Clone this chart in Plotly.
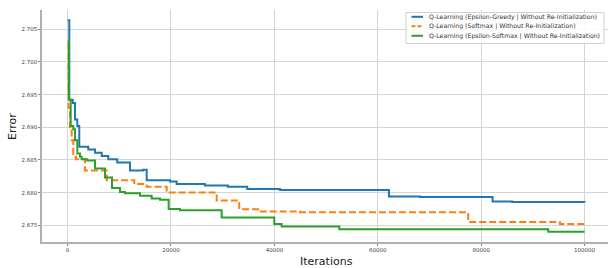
import plotly.graph_objects as go

# Data (step breakpoints)
greedy_x = [0, 330, 990, 1430, 1880, 2260, 4000, 5300, 6600, 7870, 9600, 12070, 14600, 15300,
            19800, 21100, 26570, 31000, 34750, 41080, 62160, 68150, 82200, 86000, 100000]
greedy_y = [2.7064, 2.6942, 2.6937, 2.6912, 2.6902, 2.6870, 2.6866, 2.6861, 2.6856, 2.6851, 2.6846,
            2.6834, 2.6835, 2.6819, 2.6817, 2.6813, 2.6811, 2.6809, 2.68056, 2.6804, 2.6794,
            2.67933, 2.67863, 2.67855, 2.67853]

softmax_x = [0, 170, 460, 790, 1100, 1620, 3370, 7560, 12900, 15300, 19170, 28840, 33200, 37080,
             44950, 77500, 95230, 100000]
softmax_y = [2.7028, 2.6930, 2.6895, 2.6880, 2.6855, 2.6851, 2.6834, 2.6819, 2.6813, 2.6809,
             2.6800, 2.6788, 2.67746, 2.6771, 2.6770, 2.6755, 2.6752, 2.6752]

esoft_x = [0, 270, 600, 1100, 1430, 1880, 2400, 2730, 3800, 5300, 7230, 8590, 10130, 11100, 14000,
           16260, 17870, 19550, 21740, 29800, 39980, 41400, 52550, 92970, 100000]
esoft_y = [2.7031, 2.6942, 2.6902, 2.6897, 2.6880, 2.6860, 2.6855, 2.6851, 2.6849, 2.6837, 2.6823,
           2.6807, 2.6801, 2.6799, 2.6795, 2.6791, 2.6789, 2.6775, 2.6773, 2.6762, 2.6752,
           2.6748, 2.6744, 2.6740, 2.6740]

names = ["Q-Learning (Epsilon-Greedy | Without Re-Initialization)",
         "Q-Learning (Softmax | Without Re-Initialization)",
         "Q-Learning (Epsilon-Softmax | Without Re-Initialization)"]
x_ticks = [0, 20000, 40000, 60000, 80000, 100000]
y_ticks = [2.675, 2.680, 2.685, 2.690, 2.695, 2.700, 2.705]

W, H = 608, 268
ML, MR, MT, MB = 42, 0, 10, 26
PW, PH = W - ML - MR, H - MT - MB

def px_x(p):  # pixel -> paper x
    return (p - ML) / PW

def px_y(p):  # pixel -> paper y
    return 1 - (p - MT) / PH

font = "DejaVu Sans, sans-serif"
DASH = "7px,3px"
fig = go.Figure()
series = [(greedy_x, greedy_y, "#1f77b4", "solid"),
          (softmax_x, softmax_y, "#ff7f0e", DASH),
          (esoft_x, esoft_y, "#2ca02c", "solid")]
for (xs, ys, c, d), n in zip(series, names):
    fig.add_trace(go.Scatter(x=xs, y=ys, mode="lines", name=n, showlegend=False,
                             line=dict(color=c, width=2, dash=d, shape="hv")))

# manual compact legend
shapes = [dict(type="rect", xref="paper", yref="paper",
               x0=px_x(406), x1=px_x(604), y0=px_y(43.5), y1=px_y(12.5),
               line=dict(color="#d0d0d0", width=1), fillcolor="rgba(255,255,255,0.85)", layer="above")]
annotations = []
rows = [16.8, 26.3, 35.8]
for (xs, ys, c, d), n, ry in zip(series, names, rows):
    shapes.append(dict(type="line", xref="paper", yref="paper",
                       x0=px_x(411.5), x1=px_x(423), y0=px_y(ry), y1=px_y(ry),
                       line=dict(color=c, width=2, dash="4px,2px" if d != "solid" else "solid"),
                       layer="above"))
    annotations.append(dict(xref="paper", yref="paper", x=px_x(426.5), y=px_y(ry),
                            xanchor="left", yanchor="middle", showarrow=False, text=n,
                            font=dict(size=6.2, family=font, color="#333333")))
annotations.append(dict(xref="paper", yref="paper", x=px_x(326), y=px_y(261), text="Iterations",
                        xanchor="center", yanchor="middle", showarrow=False,
                        font=dict(size=11, family=font, color="#222222")))
annotations.append(dict(xref="paper", yref="paper", x=px_x(12), y=px_y(127), text="Error",
                        xanchor="center", yanchor="middle", showarrow=False, textangle=-90,
                        font=dict(size=11, family=font, color="#222222")))

fig.update_layout(
    width=W, height=H,
    margin=dict(l=ML, r=MR, t=MT, b=MB),
    paper_bgcolor="white", plot_bgcolor="white",
    font=dict(family=font, color="#333333"),
    showlegend=False, hovermode=False,
    shapes=shapes, annotations=annotations,
)
fig.update_xaxes(
    range=[-4950, 104530], tickvals=x_ticks, ticktext=[str(v) for v in x_ticks],
    tickfont=dict(size=5.5, family=font, color="#444444"), automargin=False,
    showgrid=True, gridcolor="#d5d5d5", gridwidth=1,
    showline=True, linecolor="#b0b0b0", linewidth=1.5, mirror=False,
    ticks="outside", ticklen=2, tickcolor="#888888", zeroline=False,
)
fig.update_yaxes(
    range=[2.67244, 2.70795], tickvals=y_ticks, ticktext=[f"{v:.3f}" for v in y_ticks],
    tickfont=dict(size=5.5, family=font, color="#444444"), automargin=False,
    showgrid=True, gridcolor="#d5d5d5", gridwidth=1,
    showline=True, linecolor="#b0b0b0", linewidth=1.5, mirror=False,
    ticks="outside", ticklen=2, tickcolor="#888888", zeroline=False,
)
fig.write_html("out.html", config={"displayModeBar": False},
               post_script="document.body.style.margin='0';document.body.style.overflow='hidden';")
